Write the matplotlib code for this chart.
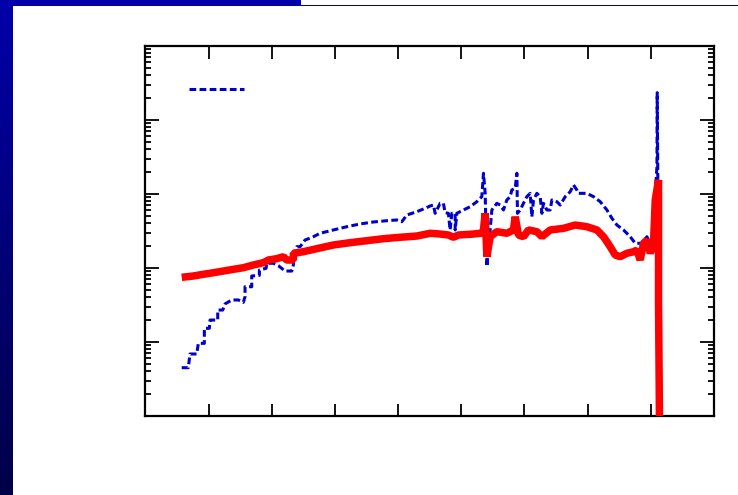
import numpy as np
import matplotlib
matplotlib.use("Agg")
import matplotlib.pyplot as plt
from matplotlib.lines import Line2D
from matplotlib.ticker import LogLocator, MultipleLocator, NullFormatter, NullLocator

# ---- data (x in axis units, y as log10 of value) ----
blue_x = [0.575, 0.679, 0.706, 0.812, 0.838, 0.933, 0.933, 1.012, 1.023, 1.145, 1.145, 1.224,
          1.260, 1.367, 1.471, 1.550, 1.577, 1.577, 1.683, 1.683, 1.804, 1.804, 1.910, 1.921,
          2.025, 2.105, 2.211, 2.317, 2.342, 2.353, 2.396, 2.448, 2.527, 2.659, 2.765, 2.975,
          3.188, 3.398, 3.609, 3.821, 3.979, 4.059, 4.138, 4.296, 4.428, 4.507, 4.559, 4.586,
          4.665, 4.717, 4.744, 4.796, 4.823, 4.850, 4.903, 4.903, 4.930, 5.034, 5.140, 5.246,
          5.325, 5.351, 5.378, 5.405, 5.484, 5.563, 5.615, 5.667, 5.721, 5.774, 5.800, 5.853,
          5.880, 5.889, 5.932, 5.984, 6.038, 6.090, 6.117, 6.143, 6.196, 6.249, 6.276, 6.301,
          6.355, 6.407, 6.434, 6.513, 6.565, 6.645, 6.724, 6.776, 6.830, 6.855, 6.988, 7.093,
          7.199, 7.305, 7.384, 7.463, 7.568, 7.674, 7.753, 7.859, 7.938, 7.991, 8.043, 8.070,
          8.097, 8.101, 8.125]
blue_logy = [0.653, 0.653, 0.838, 0.838, 0.982, 0.982, 1.185, 1.185, 1.297, 1.297, 1.432, 1.432,
             1.514, 1.568, 1.568, 1.536, 1.612, 1.747, 1.747, 1.892, 1.901, 1.973, 1.996, 2.064,
             2.064, 2.031, 1.959, 1.959, 2.041, 2.199, 2.288, 2.288, 2.378, 2.423, 2.469, 2.514,
             2.558, 2.595, 2.622, 2.639, 2.649, 2.626, 2.716, 2.761, 2.807, 2.838, 2.851, 2.739,
             2.874, 2.874, 2.747, 2.739, 2.514, 2.739, 2.739, 2.514, 2.739, 2.784, 2.828, 2.896,
             2.964, 3.280, 3.009, 2.018, 2.784, 2.874, 2.851, 2.784, 2.919, 2.964, 3.054, 3.077,
             3.280, 2.739, 2.784, 2.874, 2.964, 3.009, 2.693, 2.919, 3.009, 2.964, 2.739, 2.874,
             2.784, 2.784, 2.919, 2.896, 2.851, 2.964, 3.031, 3.122, 3.054, 3.009, 3.009, 2.964,
             2.896, 2.784, 2.672, 2.581, 2.514, 2.423, 2.334, 2.334, 2.423, 2.334, 2.423, 3.009,
             3.369, 4.369, 1.568]

red_x = [0.575, 0.759, 0.917, 1.075, 1.234, 1.392, 1.550, 1.709, 1.867, 1.946, 2.079, 2.184,
         2.237, 2.342, 2.342, 2.500, 2.738, 2.975, 3.240, 3.504, 3.767, 4.032, 4.296, 4.507,
         4.665, 4.796, 4.876, 4.955, 5.192, 5.298, 5.346, 5.378, 5.405, 5.457, 5.563, 5.721,
         5.826, 5.853, 5.905, 5.984, 6.063, 6.196, 6.276, 6.407, 6.618, 6.803, 6.988, 7.147,
         7.251, 7.357, 7.436, 7.515, 7.622, 7.726, 7.780, 7.832, 7.884, 7.938, 7.991, 8.043,
         8.070, 8.122, 8.122, 8.141]
red_logy = [1.874, 1.892, 1.915, 1.936, 1.959, 1.982, 2.004, 2.041, 2.072, 2.108, 2.126, 2.153,
            2.108, 2.108, 2.199, 2.220, 2.266, 2.311, 2.342, 2.369, 2.396, 2.415, 2.432, 2.469,
            2.459, 2.446, 2.415, 2.446, 2.459, 2.469, 2.473, 2.739, 2.153, 2.423, 2.491, 2.469,
            2.514, 2.693, 2.446, 2.423, 2.514, 2.491, 2.423, 2.514, 2.536, 2.581, 2.558, 2.514,
            2.423, 2.288, 2.176, 2.153, 2.199, 2.220, 2.243, 2.108, 2.334, 2.378, 2.199, 2.334,
            2.919, 3.189, 1.545, -0.5]

x_major = [1, 2, 3, 4, 5, 6, 7, 8]
x_range = [0, 9]
y_range = [1e0, 1e5]

W, H = 738, 495
fig = plt.figure(figsize=(W / 100, H / 100), dpi=100)
fig.patch.set_facecolor("white")

# slide decoration: left gradient bar, top bar and thin rule
bar = fig.add_axes([0, 0, 13 / W, 1])
grad = np.linspace(0, 1, 256).reshape(-1, 1)
top_c = np.array([0x00, 0x00, 0xAA]) / 255
bot_c = np.array([0x00, 0x00, 0x48]) / 255
img = top_c[None, None, :] * (1 - grad[:, :, None]) + bot_c[None, None, :] * grad[:, :, None]
bar.imshow(img, aspect="auto", extent=[0, 1, 1, 0])
bar.set_axis_off()
fig.patches.append(plt.Rectangle((0, 1 - 6 / H), 301 / W, 6 / H, transform=fig.transFigure,
                                 facecolor="#0000AA", edgecolor="none", zorder=5))
fig.patches.append(plt.Rectangle((301 / W, 1 - 6 / H), 1 - 301 / W, 1.3 / H,
                                 transform=fig.transFigure, facecolor="#0000AA",
                                 edgecolor="none", zorder=5))

ax = fig.add_axes([145.4 / W, 1 - 416 / H, (714 - 145.4) / W, (416 - 46) / H])
ax.set_yscale("log")
ax.set_xlim(*x_range)
ax.set_ylim(*y_range)

blue_y = 10 ** np.array(blue_logy)
red_y = 10 ** np.array(red_logy)
ax.plot(blue_x, blue_y, color="#0000CC", lw=2.2, dashes=(2.2, 1.1), zorder=2)
ax.plot(red_x, red_y, color="#FF0000", lw=5.4, solid_joinstyle="bevel",
        solid_capstyle="butt", zorder=3)

ax.xaxis.set_major_locator(MultipleLocator(1))
ax.xaxis.set_minor_locator(NullLocator())
ax.yaxis.set_major_locator(LogLocator(base=10, numticks=10))
ax.yaxis.set_minor_locator(LogLocator(base=10, subs=np.arange(2, 10), numticks=20))
ax.xaxis.set_major_formatter(NullFormatter())
ax.yaxis.set_major_formatter(NullFormatter())
ax.yaxis.set_minor_formatter(NullFormatter())
ax.tick_params(which="both", direction="in", top=True, right=True, color="black")
ax.tick_params(axis="x", which="major", length=9, width=1.3)
ax.tick_params(axis="y", which="major", length=10, width=1.3)
ax.tick_params(axis="y", which="minor", length=4.5, width=1.3)
for s in ax.spines.values():
    s.set_linewidth(1.6)

leg_handle = Line2D([], [], color="#0000CC", lw=2.2, dashes=(2.2, 1.1))
ax.legend(handles=[leg_handle], labels=[" "], loc="upper left",
          bbox_to_anchor=(0.076, 0.90), frameon=False, handlelength=4.0,
          borderpad=0, borderaxespad=0, fontsize=10)

fig.savefig("out.png", dpi=100)
